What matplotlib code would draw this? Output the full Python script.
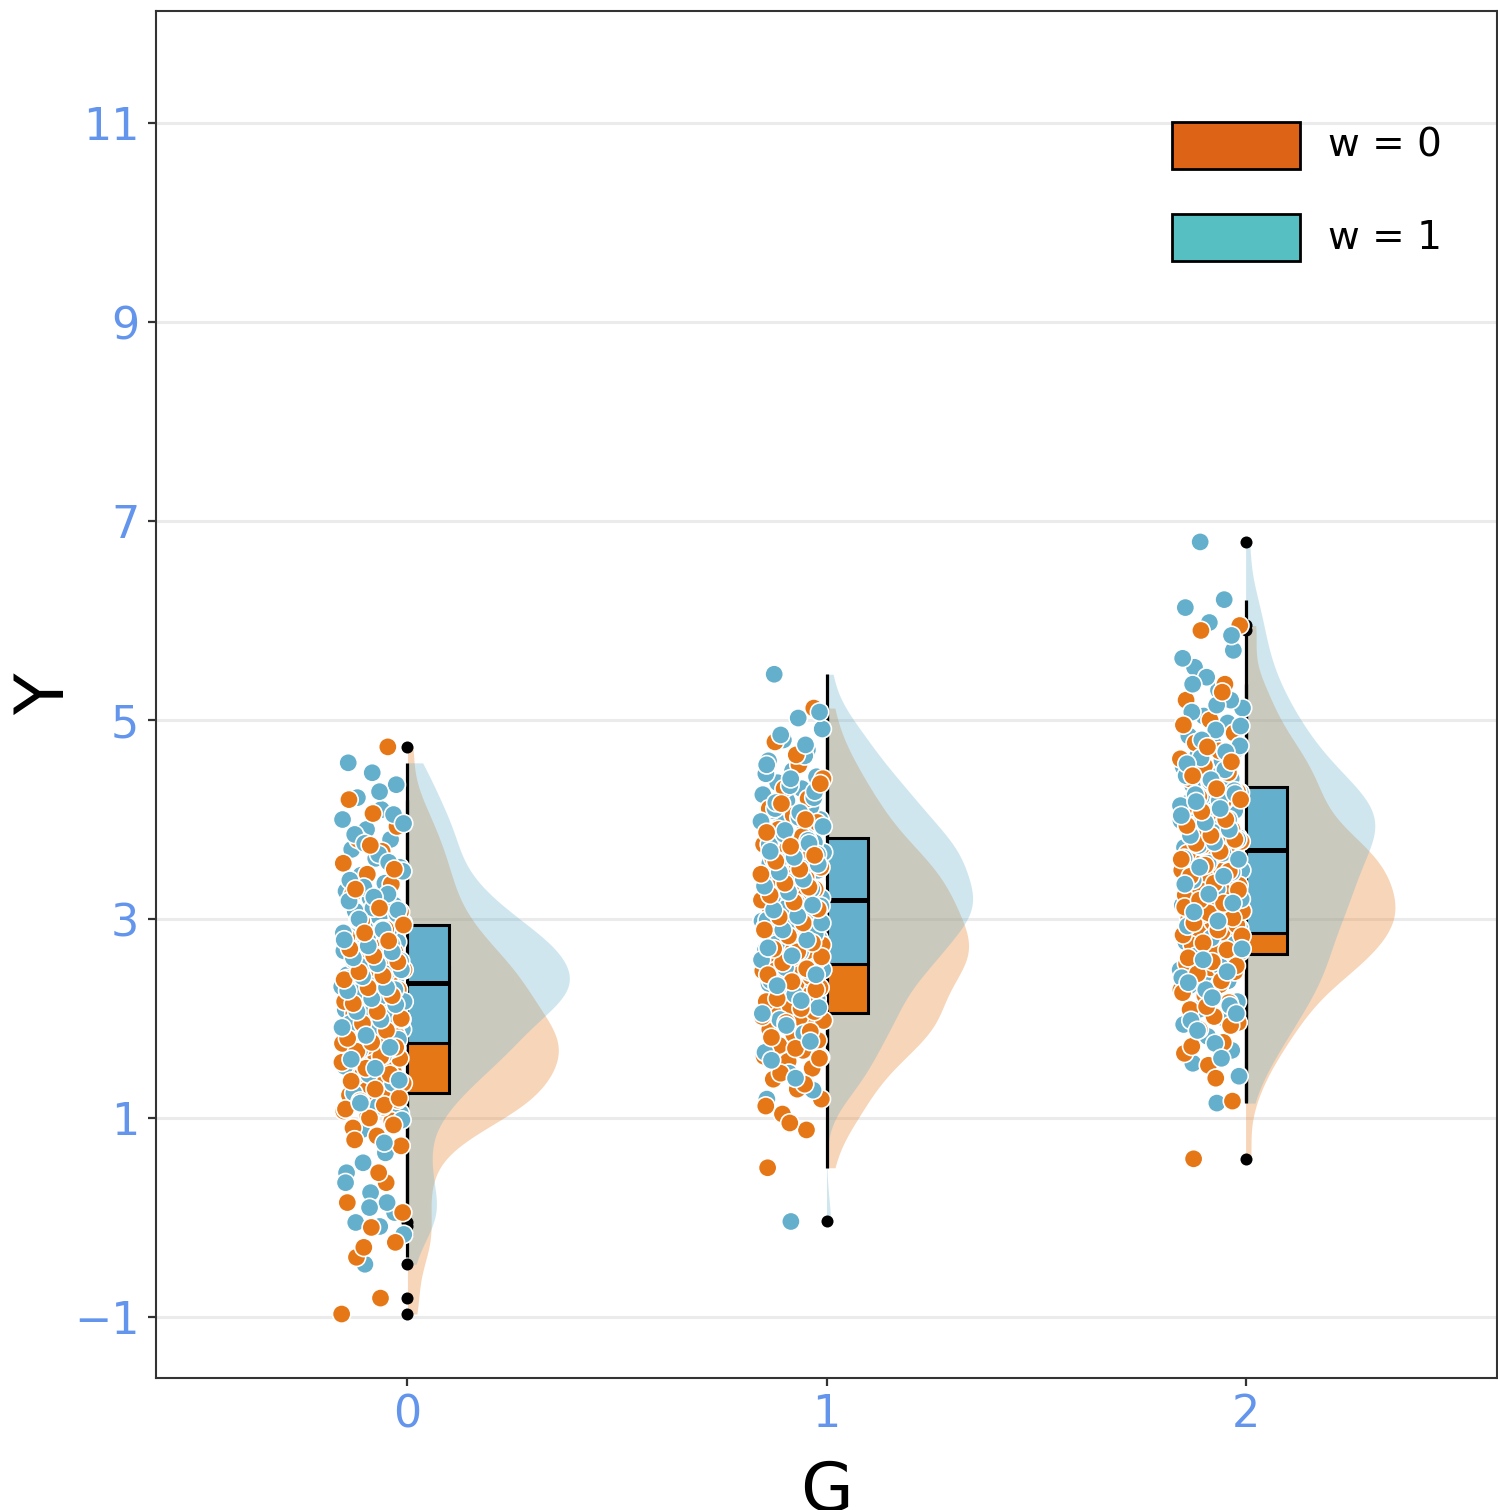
import numpy as np
import matplotlib.pyplot as plt
from matplotlib.patches import Rectangle

# group positions on the x axis and the two levels of w
groups = [0, 1, 2]
w_labels = ["w = 0", "w = 1"]

# Y values, one list per (G, w)
y_g0_w0 = [-0.97, -0.81, -0.40, -0.25, -0.10, 0.15, 0.35, 0.55, 0.72,
           0.82, 0.90, 0.97, 1.02, 1.07, 1.11, 1.15, 1.18, 1.21, 1.23,
           1.27, 1.31, 1.35, 1.39, 1.42, 1.45, 1.48, 1.51, 1.54, 1.57, 1.60, 1.63,
           1.66, 1.69, 1.72, 1.75, 1.78, 1.81, 1.84,
           1.87, 1.90, 1.93, 1.96, 1.99, 2.02, 2.05, 2.09, 2.13, 2.17, 2.21, 2.25,
           2.29, 2.33, 2.37, 2.41, 2.45, 2.49,
           2.54, 2.60, 2.67, 2.74, 2.82, 2.90, 2.98, 3.07, 3.16, 3.25, 3.35, 3.45,
           3.56, 3.68, 3.80, 3.93, 4.06, 4.20, 4.73,
           -0.30, 0.05, 0.45, 0.78, 0.93, 1.00, 1.09, 1.13, 1.17, 1.20,
           1.29, 1.37, 1.44, 1.50, 1.56, 1.62, 1.67, 1.71, 1.76, 1.80,
           1.88, 1.95, 2.00, 2.07, 2.15, 2.23, 2.31, 2.39, 2.43, 2.47,
           2.57, 2.63, 2.70, 2.78, 2.86, 2.94, 3.11, 3.30, 3.50, 3.74]
y_g0_w1 = [-0.47, -0.17, -0.09, -0.05, 0.05, 0.25, 0.45, 0.65, 0.88, 1.05,
           1.18, 1.30, 1.40, 1.48, 1.55, 1.61, 1.66, 1.70, 1.73,
           1.77, 1.81, 1.85, 1.89, 1.93, 1.97, 2.01, 2.05, 2.09, 2.12, 2.15, 2.18,
           2.21, 2.24, 2.27, 2.30, 2.32, 2.34, 2.36,
           2.38, 2.41, 2.44, 2.47, 2.50, 2.53, 2.56, 2.59, 2.62, 2.65, 2.68, 2.71,
           2.74, 2.77, 2.80, 2.84, 2.88, 2.92,
           2.96, 3.02, 3.08, 3.14, 3.21, 3.28, 3.36, 3.44, 3.52, 3.61, 3.70, 3.80,
           3.90, 4.00, 4.10, 4.22, 4.35, 4.47, 4.57,
           0.15, 0.55, 0.98, 1.12, 1.25, 1.35, 1.44, 1.52, 1.63, 1.68,
           1.79, 1.87, 1.95, 2.03, 2.10, 2.17, 2.22, 2.26, 2.29, 2.33,
           2.40, 2.45, 2.52, 2.58, 2.63, 2.69, 2.75, 2.82, 2.86, 2.90,
           2.99, 3.05, 3.11, 3.18, 3.25, 3.32, 3.48, 3.65, 3.85, 4.05,
           0.10, 0.35, 0.75, 1.15, 1.38, 1.50, 1.59, 1.71,
           1.83, 1.91, 1.99, 2.07, 2.14, 2.20, 2.28, 2.31,
           2.42, 2.49, 2.55, 2.61, 2.67, 2.73, 2.79, 2.89,
           3.00, 3.09, 3.22, 3.39, 3.57, 3.76, 3.96, 4.28]
y_g1_w0 = [0.50, 0.88, 1.04, 1.19, 1.29, 1.39, 1.50, 1.57, 1.62, 1.68, 1.73, 1.78,
           1.84, 1.89, 1.92, 1.95, 1.98, 2.01, 2.04,
           2.07, 2.12, 2.17, 2.22, 2.27, 2.31, 2.35, 2.39, 2.42, 2.45, 2.48, 2.52,
           2.55, 2.58, 2.61, 2.65, 2.68, 2.71, 2.74,
           2.78, 2.81, 2.84, 2.87, 2.91, 2.94, 2.97, 3.00, 3.04, 3.08, 3.12, 3.15,
           3.19, 3.23, 3.26, 3.30, 3.34, 3.37,
           3.42, 3.47, 3.52, 3.56, 3.61, 3.66, 3.71, 3.75, 3.83, 3.90, 3.97, 4.04,
           4.11, 4.21, 4.31, 4.41, 4.55, 4.78, 5.12,
           0.95, 1.12, 1.34, 1.45, 1.60, 1.70, 1.81, 1.87, 1.96, 2.02,
           2.10, 2.20, 2.29, 2.37, 2.44, 2.50, 2.56, 2.62, 2.67, 2.70,
           2.76, 2.83, 2.89, 2.96, 3.02, 3.10, 3.17, 3.24, 3.32, 3.36,
           3.45, 3.50, 3.58, 3.64, 3.73, 3.87, 4.00, 4.16, 4.36, 4.65]
y_g1_w1 = [-0.04, 1.19, 1.35, 1.52, 1.61, 1.71, 1.80, 1.89, 1.96, 2.02, 2.08, 2.14,
           2.20, 2.30, 2.35, 2.40, 2.45, 2.49, 2.53,
           2.57, 2.61, 2.65, 2.69, 2.73, 2.76, 2.80, 2.83, 2.87, 2.91, 2.94, 2.98,
           3.01, 3.05, 3.08, 3.11, 3.15, 3.17, 3.19,
           3.21, 3.25, 3.28, 3.31, 3.35, 3.38, 3.42, 3.45, 3.49, 3.53, 3.56, 3.60,
           3.63, 3.67, 3.71, 3.74, 3.77, 3.80,
           3.82, 3.91, 3.96, 4.00, 4.04, 4.09, 4.13, 4.19, 4.25, 4.31, 4.37, 4.43,
           4.49, 4.59, 4.70, 4.80, 4.91, 5.02, 5.46,
           1.28, 1.45, 1.66, 1.85, 1.99, 2.11, 2.24, 2.38, 2.47, 2.51,
           2.59, 2.67, 2.75, 2.85, 2.93, 2.99, 3.06, 3.10, 3.13, 3.16,
           3.23, 3.30, 3.37, 3.44, 3.51, 3.58, 3.65, 3.70, 3.75, 3.79,
           3.85, 3.93, 4.02, 4.11, 4.22, 4.34, 4.46, 4.64, 4.85, 5.08,
           1.40, 1.58, 1.77, 1.93, 2.05, 2.18, 2.33, 2.44,
           2.63, 2.71, 2.79, 2.89, 2.96, 3.03, 3.09, 3.14,
           3.27, 3.33, 3.40, 3.47, 3.55, 3.62, 3.68, 3.76,
           3.89, 3.98, 4.07, 4.17, 4.28, 4.41, 4.55, 4.75]
y_g2_w0 = [0.59, 1.17, 1.53, 1.65, 1.76, 1.89, 1.96, 2.02, 2.09, 2.16, 2.23, 2.29,
           2.34, 2.42, 2.47, 2.51, 2.55, 2.59, 2.63,
           2.67, 2.71, 2.74, 2.78, 2.81, 2.84, 2.87, 2.91, 2.94, 2.97, 3.00, 3.02,
           3.05, 3.08, 3.11, 3.14, 3.17, 3.21, 3.24,
           3.27, 3.31, 3.34, 3.37, 3.41, 3.44, 3.46, 3.49, 3.52, 3.55, 3.58, 3.62,
           3.66, 3.70, 3.74, 3.78, 3.82, 3.86,
           3.90, 4.05, 4.11, 4.17, 4.23, 4.28, 4.34, 4.41, 4.47, 4.54, 4.61, 4.69,
           4.77, 4.87, 5.00, 5.20, 5.36, 5.90, 5.95,
           1.40, 1.72, 1.93, 2.12, 2.26, 2.38, 2.45, 2.53, 2.57, 2.61,
           2.69, 2.76, 2.83, 2.89, 2.96, 3.01, 3.06, 3.12, 3.16, 3.19,
           3.29, 3.36, 3.43, 3.48, 3.54, 3.60, 3.68, 3.76, 3.80, 3.84,
           3.94, 4.00, 4.08, 4.20, 4.31, 4.44, 4.58, 4.73, 4.95, 5.28]
y_g2_w1 = [1.15, 1.55, 1.68, 1.82, 1.94, 2.01, 2.09, 2.17, 2.25, 2.33, 2.38, 2.44,
           2.49, 2.55, 2.61, 2.66, 2.72, 2.77, 2.84,
           2.88, 2.91, 2.96, 3.00, 3.05, 3.09, 3.14, 3.18, 3.23, 3.27, 3.32, 3.36,
           3.41, 3.45, 3.49, 3.54, 3.58, 3.64, 3.69,
           3.72, 3.75, 3.78, 3.82, 3.85, 3.88, 3.92, 3.95, 3.99, 4.02, 4.06, 4.09,
           4.13, 4.16, 4.20, 4.23, 4.27, 4.31,
           4.35, 4.41, 4.47, 4.53, 4.59, 4.65, 4.71, 4.77, 4.84, 4.97, 5.04, 5.12,
           5.30, 5.53, 5.70, 5.98, 6.13, 6.21, 6.79,
           1.42, 1.75, 1.98, 2.13, 2.29, 2.41, 2.52, 2.63, 2.75, 2.81,
           2.93, 3.02, 3.11, 3.20, 3.30, 3.39, 3.47, 3.56, 3.61, 3.66,
           3.74, 3.80, 3.87, 3.94, 4.00, 4.07, 4.14, 4.19, 4.25, 4.29,
           4.38, 4.44, 4.50, 4.62, 4.74, 4.90, 5.08, 5.20, 5.43, 5.62,
           1.60, 1.88, 2.05, 2.21, 2.36, 2.47, 2.59, 2.70,
           2.98, 3.07, 3.16, 3.25, 3.35, 3.43, 3.52, 3.60,
           3.77, 3.84, 3.90, 3.97, 4.04, 4.11, 4.18, 4.26,
           4.40, 4.56, 4.68, 4.80, 4.94, 5.15, 5.36, 5.85]

data = {
    (0, 0): y_g0_w0, (0, 1): y_g0_w1,
    (1, 0): y_g1_w0, (1, 1): y_g1_w1,
    (2, 0): y_g2_w0, (2, 1): y_g2_w1,
}

POINT_COLORS = ["#E67717", "#64AFCB"]
LEGEND_COLORS = ["#DD6416", "#56BFC1"]
TICK_COLOR = "#6495ED"
AREA_SCALE = 0.85      # violin half-width per unit of density
BW_ADJUST = 0.8
BOX_WIDTH = 0.10


def kde(values, grid, adjust=1.0):
    """Gaussian KDE with R's bw.nrd0 bandwidth times `adjust`."""
    v = np.asarray(values, dtype=float)
    q75, q25 = np.percentile(v, [75, 25])
    bw = adjust * 0.9 * min(v.std(ddof=1), (q75 - q25) / 1.34) * len(v) ** -0.2
    z = (grid[:, None] - v[None, :]) / bw
    return np.exp(-0.5 * z ** 2).sum(axis=1) / (len(v) * bw * np.sqrt(2 * np.pi))


def box_stats(values):
    v = np.asarray(values, dtype=float)
    q1, med, q3 = np.percentile(v, [25, 50, 75])
    iqr = q3 - q1
    inside = v[(v >= q1 - 1.5 * iqr) & (v <= q3 + 1.5 * iqr)]
    fliers = v[(v < q1 - 1.5 * iqr) | (v > q3 + 1.5 * iqr)]
    return q1, med, q3, inside.min(), inside.max(), fliers


def spread(n, phase):
    # evenly scattered offsets in [-1, 1) for the jittered points
    return ((np.arange(n) * 0.6180339887 + phase) % 1.0) * 2 - 1


fig = plt.figure(figsize=(14.98, 15.10), dpi=100)
ax = fig.add_axes([156 / 1498, 132 / 1510, 1341 / 1498, 1367 / 1510])

for g in groups:
    # half violins, w = 0 first so w = 1 sits on top
    for w in (0, 1):
        vals = data[(g, w)]
        grid = np.linspace(min(vals), max(vals), 512)
        half = kde(vals, grid, BW_ADJUST) * AREA_SCALE
        ax.fill_betweenx(grid, g, g + half, color=POINT_COLORS[w], alpha=0.3,
                         linewidth=0, zorder=1)

    # boxes with whiskers on the group line
    for w in (0, 1):
        q1, med, q3, lo, hi, fliers = box_stats(data[(g, w)])
        z = 3 + w * 0.2
        ax.plot([g, g], [q3, hi], color="black", lw=2.3, zorder=2.5,
                solid_capstyle="butt")
        ax.plot([g, g], [lo, q1], color="black", lw=2.3, zorder=2.5,
                solid_capstyle="butt")
        ax.add_patch(Rectangle((g, q1), BOX_WIDTH, q3 - q1, facecolor=POINT_COLORS[w],
                               edgecolor="black", lw=2.2, zorder=z))
        ax.plot([g, g + BOX_WIDTH], [med, med], color="black", lw=3.6, zorder=z + 0.1,
                solid_capstyle="butt")
        ax.scatter(np.full(len(fliers), g), fliers, s=75, color="black",
                   linewidths=0, zorder=4)

    # jittered raw points; both w levels are interleaved in drawing order
    ys, xs, cs, rank = [], [], [], []
    for w in (0, 1):
        vals = np.asarray(data[(g, w)])
        n = len(vals)
        ys.append(vals)
        xs.append(g - 0.082 + 0.075 * spread(n, 0.37 * w + 0.11 * g))
        cs += [POINT_COLORS[w]] * n
        rank.append(np.arange(n) / n + w * 1e-6)
    order = np.argsort(np.concatenate(rank), kind="stable")
    ax.scatter(np.concatenate(xs)[order], np.concatenate(ys)[order],
               c=np.array(cs)[order], s=175, edgecolors="white",
               linewidths=1.2, zorder=5)

# legend drawn as patches in axes coordinates
for w, label in enumerate(w_labels):
    yc = 0.9013 - w * 0.0673
    ax.add_patch(Rectangle((0.7577, yc - 0.0172), 0.0955, 0.0344, transform=ax.transAxes,
                           facecolor=LEGEND_COLORS[w], edgecolor="black", lw=2.0,
                           zorder=6))
    ax.text(0.874, yc, label, transform=ax.transAxes, fontsize=28, va="center",
            ha="left", color="black", zorder=6)

ax.set_xlim(-0.6, 2.6)
ax.set_ylim(-1.613, 12.126)
ax.set_xticks(groups)
ax.set_yticks([-1, 1, 3, 5, 7, 9, 11])
ax.set_yticklabels(["\u22121", "1", "3", "5", "7", "9", "11"])
ax.tick_params(axis="both", colors="#333333", labelcolor=TICK_COLOR, labelsize=32,
               length=6, width=1.6)
ax.tick_params(axis="y", pad=6)
ax.tick_params(axis="x", pad=5)
ax.grid(axis="y", color="#EBEBEB", linewidth=2.2)
ax.set_axisbelow(True)
for side in ax.spines.values():
    side.set_color("#333333")
    side.set_linewidth(1.5)

ax.set_xlabel("G", fontsize=49)
ax.xaxis.set_label_coords(0.5, -0.059)
ax.set_ylabel("Y", fontsize=49)
ax.yaxis.set_label_coords(-0.058, 0.5)

fig.savefig("out.png", dpi=100)
